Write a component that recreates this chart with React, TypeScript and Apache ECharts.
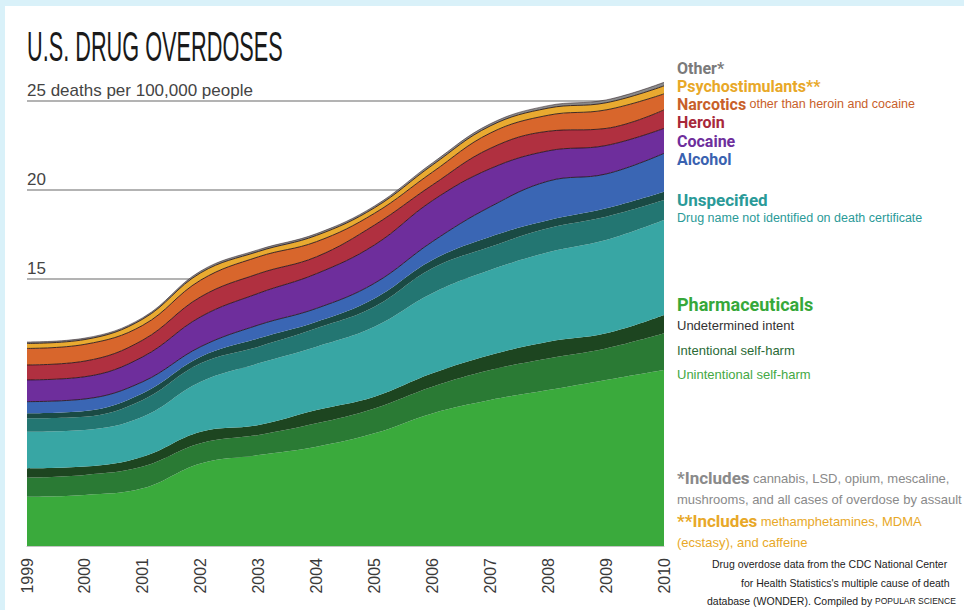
import React, { useEffect, useRef } from 'react';
import * as echarts from 'echarts';

const years = ['1999', '2000', '2001', '2002', '2003', '2004', '2005', '2006', '2007', '2008', '2009', '2010'];
const yTickLabels: Record<number, string> = { 25: '25 deaths per 100,000 people', 20: '20', 15: '15' };

// deaths per 100,000 people, bottom layer first
const pharmaUnintentional = [2.77, 2.87, 3.24, 4.64, 5.11, 5.58, 6.33, 7.45, 8.2, 8.76, 9.33, 9.89];
const pharmaIntentional = [1.07, 1.12, 1.22, 1.13, 1.13, 1.31, 1.4, 1.5, 1.69, 1.78, 1.77, 2.06];
const pharmaUndetermined = [0.52, 0.47, 0.56, 0.65, 0.56, 0.75, 0.66, 0.75, 0.84, 0.94, 0.85, 1.03];
const unspecUnintentional = [2.06, 2.06, 2.24, 2.81, 3.46, 3.56, 3.93, 4.5, 4.77, 5.02, 5.24, 5.33];
const unspecIntentional = [0.75, 0.74, 0.94, 1.03, 0.94, 1.03, 1.12, 1.4, 1.31, 1.35, 1.31, 1.13];
const unspecUndetermined = [0.28, 0.32, 0.38, 0.37, 0.47, 0.37, 0.47, 0.47, 0.57, 0.45, 0.47, 0.46];
const alcohol = [0.66, 0.68, 0.65, 0.57, 0.75, 0.75, 0.85, 1.03, 1.68, 2.2, 1.93, 2.16];
const cocaine = [1.22, 1.25, 1.4, 1.68, 1.78, 1.95, 2.15, 2.3, 2.14, 1.7, 1.6, 1.4];
const heroin = [0.84, 0.88, 0.94, 1.12, 1.1, 0.95, 1.12, 0.88, 1.14, 1.1, 0.96, 1.04];
const narcotics = [0.93, 0.94, 0.83, 0.94, 0.95, 0.85, 0.66, 0.72, 0.86, 0.9, 1.04, 0.9];
const psychostimulants = [0.28, 0.27, 0.35, 0.41, 0.3, 0.35, 0.31, 0.4, 0.4, 0.4, 0.4, 0.45];
const other = [0.08, 0.08, 0.08, 0.1, 0.1, 0.1, 0.1, 0.12, 0.12, 0.14, 0.16, 0.2];

const layers = [
  { name: 'Pharmaceuticals: unintentional self-harm', data: pharmaUnintentional, color: '#3aaa3c', edge: 0 },
  { name: 'Pharmaceuticals: intentional self-harm', data: pharmaIntentional, color: '#2a7a34', edge: 0 },
  { name: 'Pharmaceuticals: undetermined intent', data: pharmaUndetermined, color: '#1d4520', edge: 0 },
  { name: 'Unspecified: unintentional', data: unspecUnintentional, color: '#38a6a4', edge: 0 },
  { name: 'Unspecified: intentional', data: unspecIntentional, color: '#237672', edge: 0 },
  { name: 'Unspecified: undetermined', data: unspecUndetermined, color: '#1a4a44', edge: 0 },
  { name: 'Alcohol', data: alcohol, color: '#3a66b4', edge: 1 },
  { name: 'Cocaine', data: cocaine, color: '#6e2e9c', edge: 1 },
  { name: 'Heroin', data: heroin, color: '#b03040', edge: 1 },
  { name: 'Narcotics', data: narcotics, color: '#d8662c', edge: 1 },
  { name: 'Psychostimulants', data: psychostimulants, color: '#e9aa30', edge: 1 },
  { name: 'Other', data: other, color: '#8a8a8a', edge: 0.6 },
];

const HEAD = "Roboto, 'Liberation Sans', sans-serif";
const BODY = "'Liberation Sans Narrow', 'Liberation Sans', Arial, sans-serif";

function txt(x: number, y: number, text: string, rich: Record<string, any>) {
  return {
    type: 'text',
    x,
    y,
    style: { text, rich, verticalAlign: 'middle', align: 'left' },
  };
}

export default function App() {
  const ref = useRef<HTMLDivElement>(null);
  useEffect(() => {
    document.body.style.margin = '0';
    const chart = echarts.init(ref.current!, null, { renderer: 'svg' });
    const head = (fill: string, size = 16) => ({ fill, fontFamily: HEAD, fontWeight: 'bold', fontSize: size, lineHeight: 15 });
    const small = (fill: string, size = 13) => ({ fill, fontFamily: BODY, fontSize: size, lineHeight: 14 });
    chart.setOption({
      animation: false,
      grid: { left: 27, right: 300, top: 12, bottom: 64 },
      xAxis: {
        type: 'category',
        data: years,
        boundaryGap: false,
        axisTick: { show: false },
        axisLine: { show: true, lineStyle: { color: '#c4c4c4', width: 1 } },
        axisLabel: { rotate: 90, margin: 12, interval: 0, fontSize: 16, color: '#3a3a3a', fontFamily: BODY },
        splitLine: { show: false },
      },
      yAxis: {
        type: 'value',
        min: 0,
        max: 30,
        interval: 5,
        axisLine: { show: false },
        axisTick: { show: false },
        splitLine: { show: true, showMinLine: false, showMaxLine: false, lineStyle: { color: '#9a9a9a', width: 1.5 } },
        axisLabel: {
          inside: true,
          margin: 0,
          verticalAlign: 'bottom',
          padding: [0, 0, 2, 0],
          fontSize: 17,
          color: '#444',
          fontFamily: BODY,
          formatter: (v: number) => yTickLabels[v] ?? '',
        },
      },
      series: layers.map((l) => ({
        name: l.name,
        type: 'line',
        stack: 'total',
        data: l.data,
        smooth: 0.4,
        symbol: 'none',
        lineStyle: { width: l.edge, color: 'rgba(35,20,25,0.85)' },
        areaStyle: { color: l.color, opacity: 1 },
      })),
      graphic: [
        {
          type: 'text',
          x: 27,
          y: 47,
          scaleX: 0.517,
          style: {
            text: 'U.S. DRUG OVERDOSES',
            fontFamily: "'Liberation Sans', Arial, sans-serif",
            fontSize: 42,
            fill: '#1a1a1a',
            verticalAlign: 'middle',
            align: 'left',
          },
        },
        txt(677, 68, '{a|Other*}', { a: head('#7a7a7a') }),
        txt(677, 86, '{a|Psychostimulants**}', { a: head('#e8a828') }),
        txt(677, 104, '{a|Narcotics} {b|other than heroin and cocaine}', { a: head('#c8602a'), b: small('#c8602a', 12.5) }),
        txt(677, 122, '{a|Heroin}', { a: head('#a8283a') }),
        txt(677, 141, '{a|Cocaine}', { a: head('#6e2e9c') }),
        txt(677, 159, '{a|Alcohol}', { a: head('#3a62b0') }),
        txt(677, 200, '{a|Unspecified}', { a: head('#2a9a98', 17) }),
        txt(677, 218, '{b|Drug name not identified on death certificate}', { b: small('#2a9a98', 12.5) }),
        txt(677, 304, '{a|Pharmaceuticals}', { a: head('#36a83a', 18) }),
        txt(677, 325, '{b|Undetermined intent}', { b: small('#333333') }),
        txt(677, 350, '{b|Intentional self-harm}', { b: small('#2a6a35') }),
        txt(677, 374, '{b|Unintentional self-harm}', { b: small('#44a844') }),
        txt(677, 478, '{a|*Includes} {b|cannabis, LSD, opium, mescaline,}', { a: head('#8a8a8a', 17), b: small('#8a8a8a') }),
        txt(677, 499, '{b|mushrooms, and all cases of overdose by assault}', { b: small('#8a8a8a') }),
        txt(677, 521, '{a|**Includes} {b|methamphetamines, MDMA}', { a: head('#e8a828', 17), b: small('#e8a828') }),
        txt(677, 542, '{b|(ecstasy), and caffeine}', { b: small('#e8a828') }),
        txt(712, 564, '{b|Drug overdose data from the CDC National Center}', { b: small('#222222', 10.5) }),
        txt(741, 583, "{b|for Health Statistics's multiple cause of death}", { b: small('#222222', 10.5) }),
        txt(707, 601, '{b|database (WONDER). Compiled by }{c|POPULAR SCIENCE}', { b: small('#222222', 10.5), c: small('#222222', 8.5) }),
      ],
    });
    return () => chart.dispose();
  }, []);
  return (
    <div style={{ position: 'relative', width: 964, height: 610, background: '#d9f1f9', overflow: 'hidden' }}>
      <div style={{ position: 'absolute', left: 5, top: 6, right: 0, bottom: 0, background: '#ffffff' }} />
      <div ref={ref} style={{ position: 'absolute', left: 0, top: 0, width: 964, height: 610 }} />
    </div>
  );
}
